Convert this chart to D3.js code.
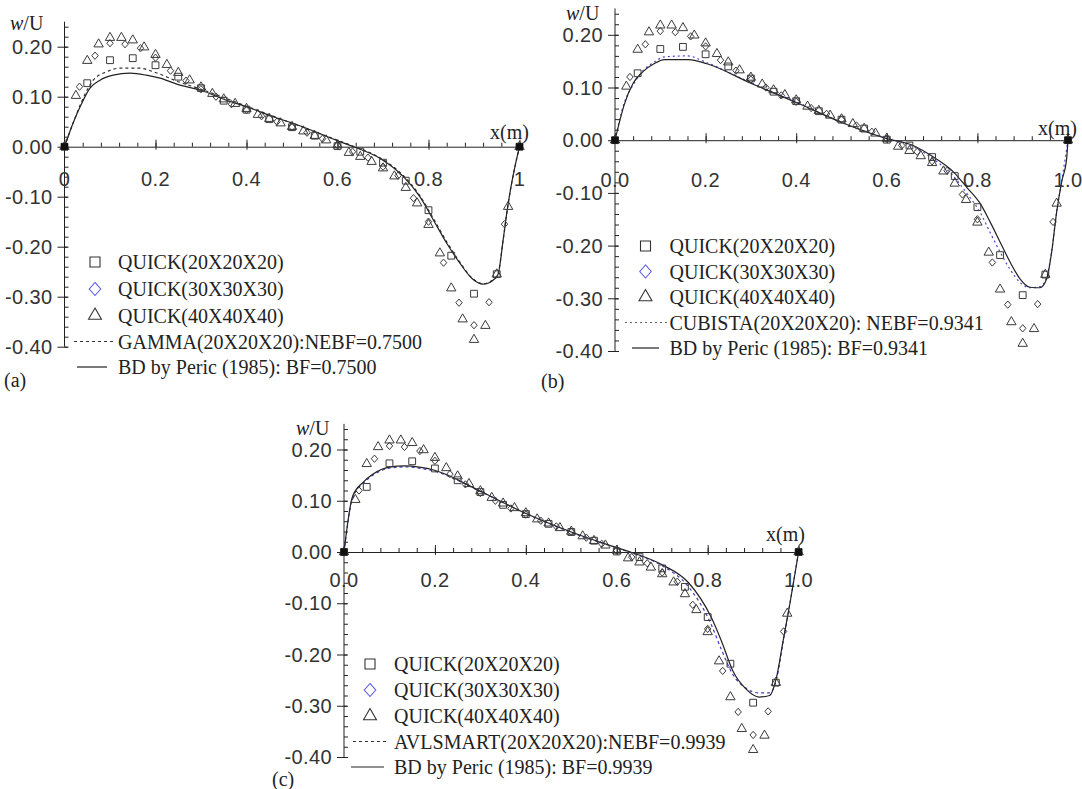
<!DOCTYPE html>
<html>
<head>
<meta charset="utf-8">
<script src="https://cdn.jsdelivr.net/npm/d3@7"></script>
<style>
  body { margin: 0; background: #fff; }
  svg { display: block; }
  .num { font-family: "Liberation Sans", Arial, sans-serif; font-size: 20px; letter-spacing: 0.4px; fill: #333; }
  .serif { font-family: "Liberation Serif", "Times New Roman", serif; font-size: 20px; fill: #222; }
</style>
</head>
<body>
<svg width="1082" height="789"></svg>
<script>
// QUICK results, shared by the three panels (x in m, w/U)
var quick20X = [0, 0.05, 0.1, 0.15, 0.2, 0.25, 0.3, 0.35, 0.4, 0.45, 0.5, 0.55, 0.6, 0.65, 0.7, 0.75, 0.8, 0.85, 0.9, 0.95, 1];
var quick20W = [0, 0.127, 0.173, 0.177, 0.163, 0.140, 0.117, 0.092, 0.074, 0.055, 0.039, 0.022, 0.001, -0.010, -0.032, -0.068, -0.127, -0.218, -0.294, -0.255, 0];

var quick30X = [0, 0.033, 0.067, 0.1, 0.133, 0.167, 0.2, 0.233, 0.267, 0.3, 0.333, 0.367, 0.4, 0.433, 0.467, 0.5, 0.533, 0.567, 0.6, 0.633, 0.667, 0.7, 0.733, 0.767, 0.8, 0.833, 0.867, 0.9, 0.933, 0.967, 1];
var quick30W = [0, 0.120, 0.182, 0.207, 0.205, 0.197, 0.178, 0.152, 0.132, 0.115, 0.100, 0.085, 0.073, 0.061, 0.050, 0.039, 0.028, 0.016, 0.003, -0.010, -0.022, -0.040, -0.058, -0.103, -0.150, -0.232, -0.312, -0.357, -0.311, -0.155, 0];

var quick40X = [0, 0.025, 0.05, 0.075, 0.1, 0.125, 0.15, 0.175, 0.2, 0.225, 0.25, 0.275, 0.3, 0.325, 0.35, 0.375, 0.4, 0.425, 0.45, 0.475, 0.5, 0.525, 0.55, 0.575, 0.6, 0.625, 0.65, 0.675, 0.7, 0.725, 0.75, 0.775, 0.8, 0.825, 0.85, 0.875, 0.9, 0.925, 0.95, 0.975, 1];
var quick40W = [0, 0.102, 0.172, 0.205, 0.218, 0.218, 0.213, 0.199, 0.184, 0.164, 0.148, 0.133, 0.119, 0.106, 0.095, 0.086, 0.076, 0.064, 0.056, 0.047, 0.040, 0.031, 0.022, 0.013, 0.003, -0.012, -0.020, -0.030, -0.043, -0.059, -0.082, -0.113, -0.156, -0.213, -0.283, -0.345, -0.386, -0.358, -0.255, -0.120, 0];

// (a) GAMMA and BD, BF = 0.75
var gammaX = [0, 0.02, 0.04, 0.063, 0.093, 0.122, 0.166, 0.195, 0.25, 0.3, 0.4, 0.5, 0.6, 0.635, 0.693, 0.745, 0.781, 0.811, 0.84, 0.869, 0.895, 0.92, 0.942, 0.953, 0.964, 0.972, 0.98, 0.99, 1];
var gammaW = [0, 0.05, 0.095, 0.133, 0.15, 0.157, 0.157, 0.15, 0.13, 0.115, 0.081, 0.047, 0.013, 0.001, -0.022, -0.058, -0.098, -0.144, -0.19, -0.231, -0.262, -0.274, -0.266, -0.253, -0.187, -0.133, -0.087, -0.04, 0];
var bdAX = [0, 0.02, 0.038, 0.056, 0.078, 0.107, 0.144, 0.18, 0.21, 0.254, 0.3, 0.356, 0.4, 0.459, 0.514, 0.6, 0.635, 0.693, 0.745, 0.781, 0.811, 0.84, 0.869, 0.895, 0.92, 0.942, 0.953, 0.964, 0.972, 0.98, 0.99, 1];
var bdAW = [0, 0.05, 0.087, 0.117, 0.133, 0.143, 0.147, 0.143, 0.137, 0.123, 0.113, 0.093, 0.08, 0.06, 0.043, 0.012, 0, -0.023, -0.06, -0.1, -0.147, -0.193, -0.233, -0.263, -0.275, -0.267, -0.255, -0.187, -0.133, -0.087, -0.04, 0];

// (b) CUBISTA and BD, BF = 0.9341
var cubistaX = [0, 0.02, 0.04, 0.063, 0.086, 0.109, 0.16, 0.203, 0.3, 0.4, 0.5, 0.6, 0.658, 0.703, 0.747, 0.776, 0.806, 0.828, 0.85, 0.872, 0.894, 0.916, 0.938, 0.953, 0.964, 0.975, 0.986, 1];
var cubistaW = [0, 0.07, 0.105, 0.133, 0.148, 0.158, 0.16, 0.147, 0.109, 0.073, 0.034, 0.003, -0.012, -0.036, -0.068, -0.1, -0.137, -0.175, -0.212, -0.245, -0.27, -0.28, -0.278, -0.26, -0.21, -0.135, -0.078, 0];
var bdBX = [0, 0.021, 0.04, 0.063, 0.086, 0.109, 0.162, 0.203, 0.3, 0.399, 0.502, 0.6, 0.658, 0.703, 0.747, 0.776, 0.806, 0.828, 0.85, 0.872, 0.894, 0.916, 0.938, 0.953, 0.964, 0.975, 0.986, 0.997, 1];
var bdBW = [0, 0.069, 0.108, 0.131, 0.145, 0.153, 0.153, 0.145, 0.108, 0.072, 0.033, 0.003, -0.01, -0.032, -0.06, -0.089, -0.12, -0.155, -0.193, -0.231, -0.263, -0.279, -0.28, -0.263, -0.212, -0.136, -0.079, -0.035, 0];

// (c) AVLSMART and BD, BF = 0.9939
var avlsmartX = [0, 0.019, 0.042, 0.064, 0.102, 0.133, 0.201, 0.3, 0.4, 0.5, 0.6, 0.633, 0.7, 0.758, 0.807, 0.83, 0.856, 0.883, 0.913, 0.936, 0.951, 0.966, 0.981, 1];
var avlsmartW = [0, 0.105, 0.134, 0.15, 0.164, 0.166, 0.157, 0.118, 0.075, 0.038, 0.008, -0.002, -0.027, -0.068, -0.14, -0.19, -0.24, -0.265, -0.275, -0.275, -0.25, -0.175, -0.1, 0];
var bdCX = [0, 0.019, 0.042, 0.064, 0.102, 0.133, 0.201, 0.299, 0.398, 0.5, 0.598, 0.633, 0.7, 0.758, 0.807, 0.83, 0.856, 0.883, 0.913, 0.936, 0.951, 0.966, 0.981, 1];
var bdCW = [0, 0.109, 0.136, 0.152, 0.166, 0.168, 0.159, 0.119, 0.076, 0.039, 0.009, -0.001, -0.025, -0.06, -0.126, -0.173, -0.233, -0.266, -0.283, -0.28, -0.246, -0.173, -0.1, 0];

var wallX = [0, 1];

var yMajor = [0.2, 0.1, 0, -0.1, -0.2, -0.3, -0.4];
var yTickLabels = ["0.20", "0.10", "0.00", "-0.10", "-0.20", "-0.30", "-0.40"];
var xMajor = [0, 0.2, 0.4, 0.6, 0.8, 1];
var xLabelsA = ["0", "0.2", "0.4", "0.6", "0.8", "1"];
var xLabelsBC = ["0.0", "0.2", "0.4", "0.6", "0.8", "1.0"];

var quickNames = ["QUICK(20X20X20)", "QUICK(30X30X30)", "QUICK(40X40X40)"];

var ink = "#222";
var markInk = "#3a3a3a";
var svg = d3.select("svg");

var zip = function(xs, ws) {
    return xs.map(function(v, i) { return [v, ws[i]]; });
};

var stripDomain = function(a) { a.select(".domain").remove(); };

// squat diamond, closer to the original than d3.symbolDiamond
var openDiamond = {
    draw: function(ctx, size) {
        var h = Math.sqrt(size) * 0.78, w = h * 0.88;
        ctx.moveTo(0, -h);
        ctx.lineTo(w, 0);
        ctx.lineTo(0, h);
        ctx.lineTo(-w, 0);
        ctx.closePath();
    }
};

var markers = [
    { pts: zip(quick20X, quick20W), type: d3.symbolSquare, size: 46, legendSize: 100, legendColor: "#333" },
    { pts: zip(quick30X, quick30W), type: openDiamond, size: 22, legendSize: 70, legendColor: "#5c5ce8" },
    { pts: zip(quick40X, quick40W), type: d3.symbolTriangle, size: 38, legendSize: 72, legendColor: "#333" }
];

var drawPanel = function(p) {
    var g = svg.append("g").attr("color", ink);
    var x = d3.scaleLinear().domain([0, 1]).range([p.left, p.right]);
    var y = d3.scaleLinear().domain([-0.4, 0.2]).range([p.bottom, p.top]);
    var x0 = x(0), y0 = y(0);

    // y axis
    g.append("line")
        .attr("x1", x0).attr("x2", x0)
        .attr("y1", y(-0.4)).attr("y2", y(0.25))
        .attr("stroke", ink);
    g.append("g")
        .attr("transform", "translate(" + x0 + ",0)")
        .call(d3.axisRight(y).tickValues(d3.range(-0.4, 0.25, 0.02)).tickSize(4).tickFormat(""))
        .call(stripDomain);
    g.append("g")
        .attr("transform", "translate(" + x0 + ",0)")
        .call(d3.axisLeft(y).tickValues(yMajor).tickSize(7).tickFormat(""))
        .call(stripDomain)
        .selectAll(".tick line").attr("x1", 3);
    g.selectAll(".ylab")
        .data(yMajor)
        .enter().append("text")
            .attr("class", "num")
            .attr("x", x0 - 12)
            .attr("y", function(d) { return y(d); })
            .attr("dy", "0.36em")
            .attr("text-anchor", "end")
            .text(function(d, i) { return yTickLabels[i]; });

    // x axis on the zero line, ticks pointing up
    var xg = g.append("g").attr("transform", "translate(0," + y0 + ")");
    xg.append("g")
        .call(d3.axisTop(x).tickValues(d3.range(0, 1.001, 0.04)).tickSize(4).tickSizeOuter(0).tickFormat(""));
    xg.append("g")
        .call(d3.axisTop(x).tickValues(xMajor).tickSize(7).tickFormat(""))
        .call(stripDomain)
        .selectAll(".tick line").attr("y1", 3);
    g.selectAll(".xlab")
        .data(xMajor)
        .enter().append("text")
            .attr("class", "num")
            .attr("x", function(d) { return x(d); })
            .attr("y", p.xLabelY)
            .attr("text-anchor", "middle")
            .text(function(d, i) { return p.xLabels[i]; });

    // curves
    var line = d3.line()
        .x(function(d) { return x(d[0]); })
        .y(function(d) { return y(d[1]); })
        .curve(d3.curveMonotoneX);
    g.append("path")
        .attr("d", line(p.scheme))
        .attr("fill", "none")
        .attr("stroke", p.schemeColor)
        .attr("stroke-width", 1.2)
        .attr("stroke-dasharray", p.dash);
    g.append("path")
        .attr("d", line(p.bd))
        .attr("fill", "none")
        .attr("stroke", ink)
        .attr("stroke-width", 1.2);

    // QUICK markers
    markers.forEach(function(m) {
        g.append("g").selectAll("path")
            .data(m.pts)
            .enter().append("path")
                .attr("transform", function(d) { return "translate(" + x(d[0]) + "," + y(d[1]) + ")"; })
                .attr("d", d3.symbol().type(m.type).size(m.size))
                .attr("fill", "none")
                .attr("stroke", markInk)
                .attr("stroke-width", 1);
    });
    g.selectAll(".wall")
        .data(wallX)
        .enter().append("rect")
            .attr("x", function(d) { return x(d) - 3.5; })
            .attr("y", y0 - 3.5)
            .attr("width", 7).attr("height", 7)
            .attr("fill", "#111");

    // legend
    var L = p.legend;
    markers.forEach(function(m, i) {
        g.append("path")
            .attr("transform", "translate(" + L.symX + "," + L.rows[i] + ")")
            .attr("d", d3.symbol().type(m.type).size(m.legendSize))
            .attr("fill", "none")
            .attr("stroke", m.legendColor)
            .attr("stroke-width", 1.1);
    });
    g.append("line")
        .attr("x1", L.dashLine[0]).attr("x2", L.dashLine[1])
        .attr("y1", L.rows[3]).attr("y2", L.rows[3])
        .attr("stroke", p.legendDashColor)
        .attr("stroke-width", 1.2)
        .attr("stroke-dasharray", p.dash);
    g.append("line")
        .attr("x1", L.solidLine[0]).attr("x2", L.solidLine[1])
        .attr("y1", L.rows[4]).attr("y2", L.rows[4])
        .attr("stroke", ink)
        .attr("stroke-width", 1.2);
    quickNames.concat(p.names).forEach(function(name, i) {
        g.append("text")
            .attr("class", "serif")
            .attr("x", L.textX)
            .attr("y", L.rows[i])
            .attr("dy", "0.35em")
            .text(name);
    });

    // axis titles and panel letter
    var wu = g.append("text").attr("class", "serif").attr("x", p.wu[0]).attr("y", p.wu[1]);
    wu.append("tspan").attr("font-style", "italic").text("w");
    wu.append("tspan").text("/U");
    g.append("text").attr("class", "serif").attr("x", p.xm[0]).attr("y", p.xm[1]).text("x(m)");
    g.append("text").attr("class", "serif").attr("x", p.letter[0]).attr("y", p.letter[1]).text(p.letterText);
};

drawPanel({
    left: 64.5, right: 519.5, top: 46.7, bottom: 346.7,
    xLabels: xLabelsA, xLabelY: 186,
    scheme: zip(gammaX, gammaW), schemeColor: "#333", legendDashColor: "#333", dash: "3,3",
    bd: zip(bdAX, bdAW),
    names: ["GAMMA(20X20X20):NEBF=0.7500", "BD by Peric (1985): BF=0.7500"],
    legend: { symX: 95, textX: 118, rows: [262, 289, 315.5, 341.5, 367], dashLine: [74, 115], solidLine: [77, 107] },
    wu: [10, 30], xm: [490, 139], letter: [4, 387], letterText: "(a)"
});

drawPanel({
    left: 615, right: 1068, top: 34.8, bottom: 351,
    xLabels: xLabelsBC, xLabelY: 187,
    scheme: zip(cubistaX, cubistaW), schemeColor: "#4a4ad0", legendDashColor: "#666", dash: "2,3",
    bd: zip(bdBX, bdBW),
    names: ["CUBISTA(20X20X20): NEBF=0.9341", "BD by Peric (1985): BF=0.9341"],
    legend: { symX: 645.5, textX: 669.5, rows: [246, 271.5, 297, 322.5, 348], dashLine: [625, 668], solidLine: [632, 659] },
    wu: [566, 20], xm: [1038, 135], letter: [541, 388], letterText: "(b)"
});

drawPanel({
    left: 344, right: 798.6, top: 449.5, bottom: 757,
    xLabels: xLabelsBC, xLabelY: 587,
    scheme: zip(avlsmartX, avlsmartW), schemeColor: "#3c3cc0", legendDashColor: "#333", dash: "3,3",
    bd: zip(bdCX, bdCW),
    names: ["AVLSMART(20X20X20):NEBF=0.9939", "BD by Peric (1985): BF=0.9939"],
    legend: { symX: 370, textX: 394, rows: [664, 690, 716, 741.5, 767], dashLine: [353, 389], solidLine: [351, 384] },
    wu: [296, 435], xm: [766, 541], letter: [272, 786], letterText: "(c)"
});
</script>
</body>
</html>
